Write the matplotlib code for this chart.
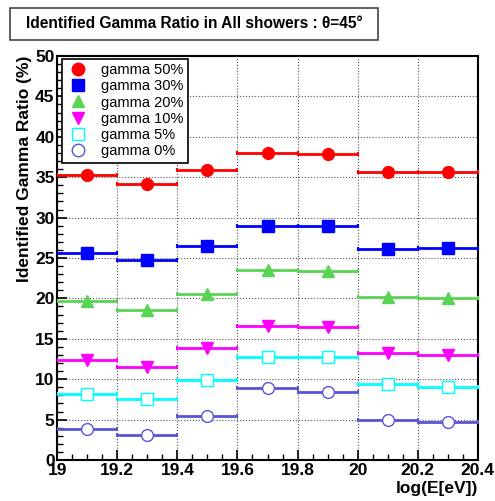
import numpy as np
import matplotlib
matplotlib.use('Agg')
import matplotlib.pyplot as plt
from matplotlib.lines import Line2D
from matplotlib.patches import Rectangle
from matplotlib.ticker import MultipleLocator

plt.rcParams['font.family'] = ['Liberation Sans', 'DejaVu Sans']

# bin edges in log(E[eV]) and bin centres
edges = [19.0, 19.2, 19.4, 19.6, 19.8, 20.0, 20.2, 20.4]
centres = [19.1, 19.3, 19.5, 19.7, 19.9, 20.1, 20.3]

labels = ['gamma 50%', 'gamma 30%', 'gamma 20%', 'gamma 10%', 'gamma 5%', 'gamma 0%']
g50 = [35.3, 34.2, 35.9, 38.0, 37.9, 35.6, 35.7]
g30 = [25.6, 24.7, 26.5, 29.0, 29.0, 26.1, 26.2]
g20 = [19.7, 18.6, 20.6, 23.5, 23.4, 20.2, 20.1]
g10 = [12.4, 11.5, 13.9, 16.6, 16.5, 13.3, 13.0]
g5 = [8.2, 7.6, 9.95, 12.8, 12.7, 9.4, 9.05]
g0 = [3.85, 3.1, 5.5, 8.85, 8.4, 4.9, 4.7]

series = [g50, g30, g20, g10, g5, g0]
colors = ['#ff0000', '#0000ff', '#59d454', '#ff00ff', '#00ffff', '#5954d8']
markers = ['o', 's', '^', 'v', 's', 'o']
filled = [True, True, True, True, False, False]

fig = plt.figure(figsize=(4.95, 5.01), dpi=100)
ax = fig.add_axes([57.3 / 495, 41 / 501, 420.4 / 495, 404 / 501])

halfw = [(edges[i + 1] - edges[i]) / 2 for i in range(len(centres))]
handles = []
for ys, c, m, f, lab in zip(series, colors, markers, filled, labels):
    fc = c if f else 'white'
    ax.errorbar(centres, ys, xerr=halfw, fmt='none', ecolor=c, elinewidth=2,
                capsize=1.5, capthick=1.5, zorder=3)
    ax.plot(centres, ys, linestyle='none', marker=m, markersize=8.5,
            markerfacecolor=fc, markeredgecolor=c, markeredgewidth=1.0, zorder=4)
    handles.append(Line2D([], [], linestyle='none', marker=m, markersize=9,
                          markerfacecolor=fc, markeredgecolor=c, markeredgewidth=1.0))

ax.set_xlim(19, 20.4)
ax.set_ylim(0, 50)
ax.xaxis.set_major_locator(MultipleLocator(0.2))
ax.xaxis.set_minor_locator(MultipleLocator(0.05))
ax.yaxis.set_major_locator(MultipleLocator(5))
ax.yaxis.set_minor_locator(MultipleLocator(1))
ax.set_xticks(np.arange(19, 20.41, 0.2))
ax.set_xticklabels(['19', '19.2', '19.4', '19.6', '19.8', '20', '20.2', '20.4'])
ax.tick_params(which='both', direction='in', top=False, right=False)
ax.tick_params(which='major', length=7, width=1.2, labelsize=12.5, pad=2)
ax.tick_params(which='minor', length=4, width=1)
for t in ax.get_xticklabels() + ax.get_yticklabels():
    t.set_fontweight('bold')
ax.grid(True, which='major', linestyle=':', color='#555555', linewidth=0.8)
ax.set_axisbelow(True)
for s in ax.spines.values():
    s.set_linewidth(1.5)

ax.set_xlabel('log(E[eV])', loc='right', fontsize=12.5, fontweight='bold', labelpad=2)
ax.set_ylabel('Identified Gamma Ratio (%)', loc='top', fontsize=12.5, fontweight='bold', labelpad=2)

leg = ax.legend(handles, labels, loc='upper left', bbox_to_anchor=(0.011, 0.993),
                fontsize=10.5, frameon=True, fancybox=False, edgecolor='black',
                framealpha=1, borderpad=0.3, labelspacing=0.15, handletextpad=0.8,
                handlelength=1.6, borderaxespad=0)
leg.get_frame().set_linewidth(1.2)

# title box
fig.patches.append(Rectangle((10 / 495, 1 - 40 / 501), 368 / 495, 32 / 501,
                             transform=fig.transFigure, facecolor='white',
                             edgecolor='#444444', linewidth=1.2))
fig.text(194 / 495, 1 - 24 / 501, 'Identified Gamma Ratio in All showers : \u03b8=45\u00b0',
         ha='center', va='center', fontsize=11.2, fontweight='bold')

fig.savefig('out.png', dpi=100)
